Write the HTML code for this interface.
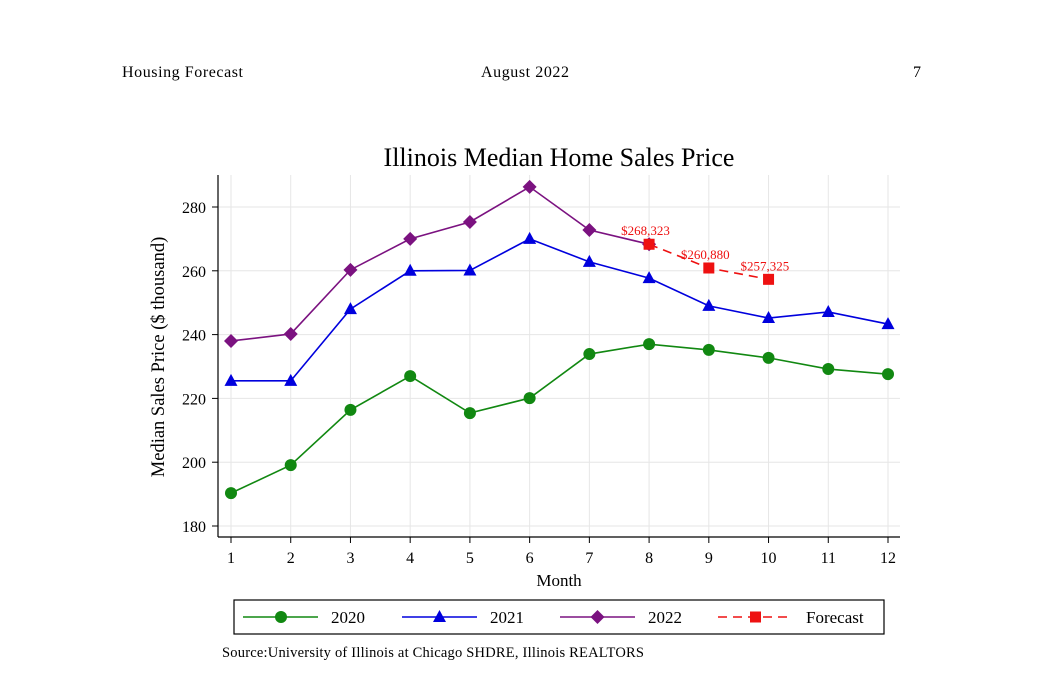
<!DOCTYPE html>
<html><head><meta charset="utf-8"><style>
body{margin:0;background:#fff;}
svg text{font-family:"Liberation Serif",serif;}
</style></head><body>
<svg width="1054" height="682" viewBox="0 0 1054 682" xmlns="http://www.w3.org/2000/svg">
<text x="122" y="77" font-size="16" textLength="121">Housing Forecast</text>
<text x="481" y="77" font-size="16" textLength="88">August 2022</text>
<text x="913" y="77" font-size="16">7</text>
<text x="559" y="166" font-size="26" text-anchor="middle">Illinois Median Home Sales Price</text>
<g id="grid"></g>
<g id="axes"></g>
<g id="series"></g>
<text x="559" y="586" font-size="17" text-anchor="middle">Month</text>
<text transform="translate(164,357) rotate(-90)" font-size="18.5" text-anchor="middle">Median Sales Price ($ thousand)</text>
<g>
<rect x="234" y="600" width="650" height="34" fill="#fff" stroke="#000" stroke-width="1.2"/>
<g><line x1="243" y1="617" x2="318" y2="617" stroke="#118811" stroke-width="1.6"/><circle cx="281" cy="617" r="6" fill="#118811"/><text x="331" y="623" font-size="17">2020</text></g>
<g><line x1="402" y1="617" x2="477" y2="617" stroke="#0000dd" stroke-width="1.6"/><polygon points="439.5,610 446,622 433,622" fill="#0000dd"/><text x="490" y="623" font-size="17">2021</text></g>
<g><line x1="560" y1="617" x2="635" y2="617" stroke="#7b1280" stroke-width="1.6"/><polygon points="597.5,610 604.5,617 597.5,624 590.5,617" fill="#7b1280"/><text x="648" y="623" font-size="17">2022</text></g>
<g><line x1="718" y1="617" x2="793" y2="617" stroke="#ee1111" stroke-width="1.6" stroke-dasharray="9,6"/><rect x="750" y="611.5" width="11" height="11" fill="#ee1111"/><text x="806" y="623" font-size="17">Forecast</text></g>
</g>
<text x="222" y="657" font-size="14.5" textLength="422">Source:University of Illinois at Chicago SHDRE, Illinois REALTORS</text>
</svg>
<script>
const months=[1,2,3,4,5,6,7,8,9,10,11,12];
const yTicks=[180,200,220,240,260,280];
const s2020=[190.3,199.1,216.4,227,215.4,220.1,233.9,237,235.2,232.7,229.2,227.6];
const s2021=[225.5,225.5,248,260,260.1,270,262.8,257.7,249,245.2,247.1,243.3];
const s2022=[238,240.2,260.3,270,275.3,286.3,272.8,268.323];
const fMonths=[8,9,10];
const fVals=[268.323,260.880,257.325];
const fLabels=["$268,323","$260,880","$257,325"];
const NS="http://www.w3.org/2000/svg";
const X=m=>231+(m-1)*(657/11);
const Y=v=>526-(v-180)*3.19;
function mk(t,a,p){const e=document.createElementNS(NS,t);for(const k in a)e.setAttribute(k,a[k]);p.appendChild(e);return e;}
const grid=document.getElementById('grid'),axes=document.getElementById('axes'),ser=document.getElementById('series');
months.forEach(m=>{const l=mk('line',{x1:X(m),x2:X(m),y1:175,y2:537,stroke:'#e6e6e6','stroke-width':1},grid);


mk('line',{x1:X(m),x2:X(m),y1:537,y2:543,stroke:'#000'},axes);
const tx=mk('text',{x:X(m),y:563,'font-size':16,'text-anchor':'middle'},axes);tx.textContent=m;

});
yTicks.forEach(v=>{const l=mk('line',{x1:218,x2:900,y1:Y(v),y2:Y(v),stroke:'#e6e6e6','stroke-width':1},grid);


mk('line',{x1:212,x2:218,y1:Y(v),y2:Y(v),stroke:'#000'},axes);
const tx=mk('text',{x:206,y:Y(v)+6,'font-size':16,'text-anchor':'end'},axes);tx.textContent=v;

});
mk('line',{x1:218,x2:218,y1:175,y2:537,stroke:'#000','stroke-width':1.2},axes);
mk('line',{x1:218,x2:900,y1:537,y2:537,stroke:'#000','stroke-width':1.2},axes);
function line(ms,vs,col,dash,name){const p=mk('polyline',{points:vs.map((v,i)=>X(ms[i])+','+Y(v)).join(' '),fill:'none',stroke:col,'stroke-width':1.6},ser);
if(dash)p.setAttribute('stroke-dasharray',dash);

}
line(months,s2020,'#118811',null,'line-2020');
line(months,s2021,'#0000dd',null,'line-2021');
line(months,s2022,'#7b1280',null,'line-2022');
line(fMonths,fVals,'#ee1111','9,6','line-forecast');
s2020.forEach((v,i)=>{const c=mk('circle',{cx:X(months[i]),cy:Y(v),r:6,fill:'#118811'},ser);

});
s2021.forEach((v,i)=>{const x=X(months[i]),y=Y(v);const c=mk('polygon',{points:`${x},${y-7} ${x+6.5},${y+5} ${x-6.5},${y+5}`,fill:'#0000dd'},ser);

});
s2022.forEach((v,i)=>{const x=X(months[i]),y=Y(v);const c=mk('polygon',{points:`${x},${y-7} ${x+7},${y} ${x},${y+7} ${x-7},${y}`,fill:'#7b1280'},ser);

});
fVals.forEach((v,i)=>{const x=X(fMonths[i]),y=Y(v);const c=mk('rect',{x:x-5.5,y:y-5.5,width:11,height:11,fill:'#ee1111'},ser);


const t=mk('text',{x:x-28,y:y-9,'font-size':13,fill:'#ee1111'},ser);t.textContent=fLabels[i];

});
</script>
</body></html>
